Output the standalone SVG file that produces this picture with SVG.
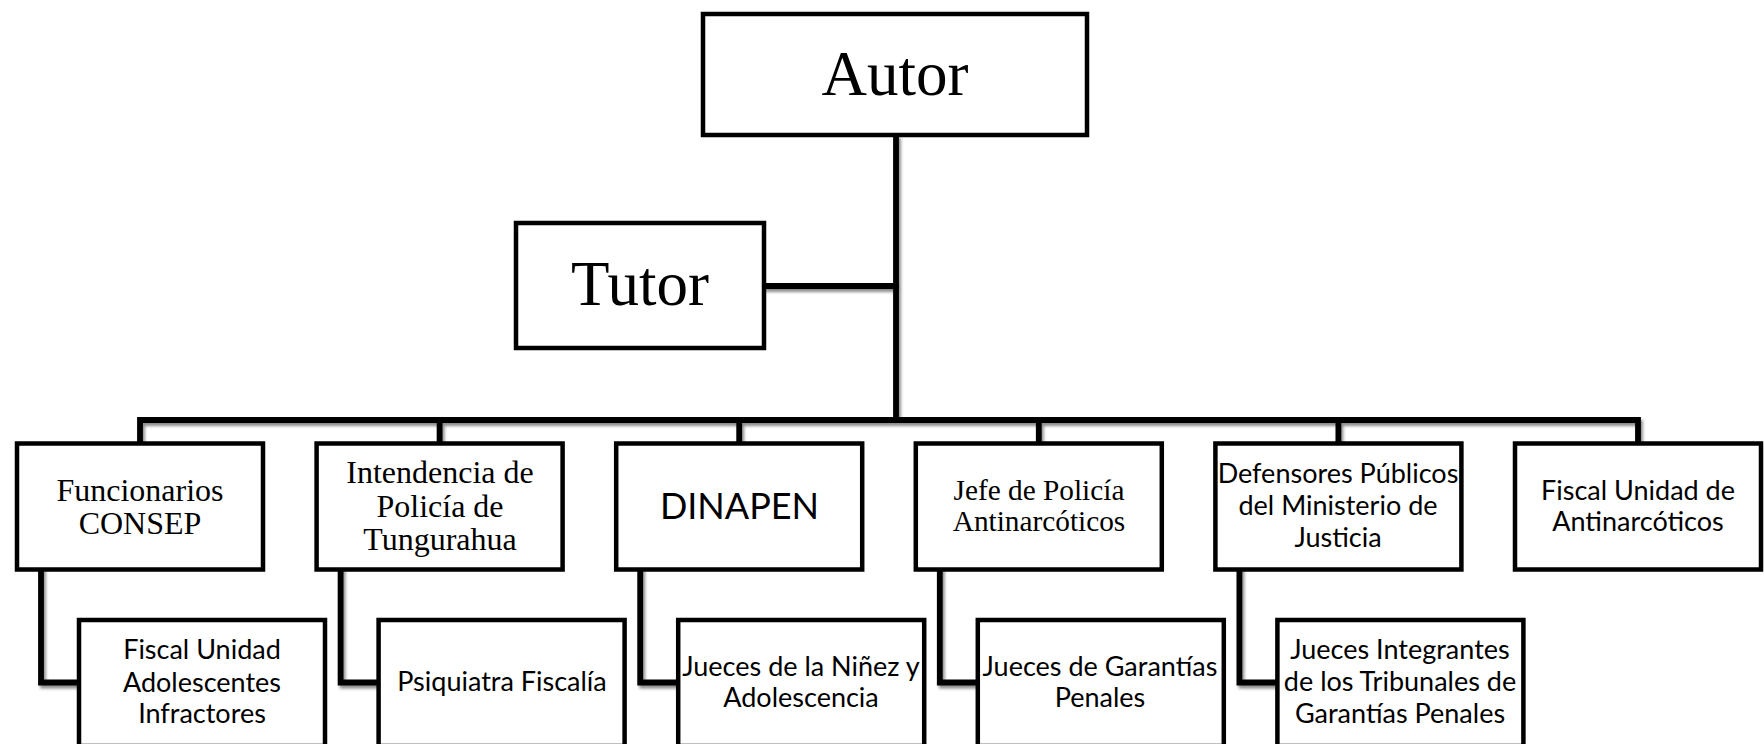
<svg xmlns="http://www.w3.org/2000/svg" width="1764" height="744" viewBox="0 0 1764 744">
<defs>
<filter id="sh" x="-5%" y="-5%" width="110%" height="110%">
<feDropShadow dx="2" dy="3" stdDeviation="1.8" flood-color="#000" flood-opacity="0.45"/>
</filter>
<style>
.box{fill:#fff;stroke:#000;stroke-width:4.5}
.ln{fill:none;stroke:#000;stroke-width:5.8;stroke-linejoin:miter;stroke-linecap:square}
.serif{font-family:"Liberation Serif","Times New Roman",serif;fill:#000;text-anchor:middle}
.sans{font-family:Lato,"Open Sans",sans-serif;fill:#000;text-anchor:middle}
.big{font-size:63px}
.t30{font-size:32px}
.t28{font-size:29.3px}
.s28{font-size:27px}
</style>
</defs>
<rect width="1764" height="744" fill="#fff"/>
<g id="connectors" filter="url(#sh)">
<path class="ln" d="M896 138 V420"/>
<path class="ln" d="M766 286 H896"/>
<path class="ln" d="M140 443 V420 H1638 V443"/>
<path class="ln" d="M439.6 420 V443 M739.2 420 V443 M1038.8 420 V443 M1338.4 420 V443"/>
<path class="ln" d="M41 570 V682.5 H79"/>
<path class="ln" d="M340.6 570 V682.5 H378.6"/>
<path class="ln" d="M640.2 570 V682.5 H678.2"/>
<path class="ln" d="M939.8 570 V682.5 H977.8"/>
<path class="ln" d="M1239.4 570 V682.5 H1277.4"/>
</g>
<g id="autor"><rect class="box" x="703" y="14" width="384" height="121"/><text class="serif big" x="895" y="95">Autor</text></g>
<g id="tutor"><rect class="box" x="516" y="223" width="248" height="125"/><text class="serif big" x="640" y="305">Tutor</text></g>
<g id="n1"><rect class="box" x="17" y="443.5" width="246" height="126"/><text class="serif t30" x="140" y="501">Funcionarios</text><text class="serif t30" x="140" y="534">CONSEP</text></g>
<g id="n2"><rect class="box" x="316.6" y="443.5" width="246" height="126"/><text class="serif t30" x="440" y="483">Intendencia de</text><text class="serif t30" x="440" y="517">Policía de</text><text class="serif t30" x="440" y="550">Tungurahua</text></g>
<g id="n3"><rect class="box" x="616.2" y="443.5" width="246" height="126"/><text class="sans" font-size="36" x="739.5" y="519">DINAPEN</text></g>
<g id="n4"><rect class="box" x="915.8" y="443.5" width="246" height="126"/><text class="serif t28" x="1039" y="500">Jefe de Policía</text><text class="serif t28" x="1039" y="531">Antinarcóticos</text></g>
<g id="n5"><rect class="box" x="1215.4" y="443.5" width="246" height="126"/><text class="sans s28" x="1338" y="483">Defensores Públicos</text><text class="sans s28" x="1338" y="515">del Ministerio de</text><text class="sans s28" x="1338" y="547">Justicia</text></g>
<g id="n6"><rect class="box" x="1515" y="443.5" width="246" height="126"/><text class="sans s28" x="1638" y="500">Fiscal Unidad de</text><text class="sans s28" x="1638" y="531">Antinarcóticos</text></g>
<g id="c1"><rect class="box" x="79" y="620" width="246" height="126"/><text class="sans s28" x="202" y="659">Fiscal Unidad</text><text class="sans s28" x="202" y="691.5">Adolescentes</text><text class="sans s28" x="202" y="723">Infractores</text></g>
<g id="c2"><rect class="box" x="378.6" y="620" width="246" height="126"/><text class="sans s28" x="502" y="691">Psiquiatra Fiscalía</text></g>
<g id="c3"><rect class="box" x="678.2" y="620" width="246" height="126"/><text class="sans s28" x="801" y="676">Jueces de la Niñez y</text><text class="sans s28" x="801" y="707">Adolescencia</text></g>
<g id="c4"><rect class="box" x="977.8" y="620" width="246" height="126"/><text class="sans s28" x="1100" y="676">Jueces de Garantías</text><text class="sans s28" x="1100" y="707">Penales</text></g>
<g id="c5"><rect class="box" x="1277.4" y="620" width="246" height="126"/><text class="sans s28" x="1400" y="659">Jueces Integrantes</text><text class="sans s28" x="1400" y="691">de los Tribunales de</text><text class="sans s28" x="1400" y="723">Garantías Penales</text></g>
</svg>
